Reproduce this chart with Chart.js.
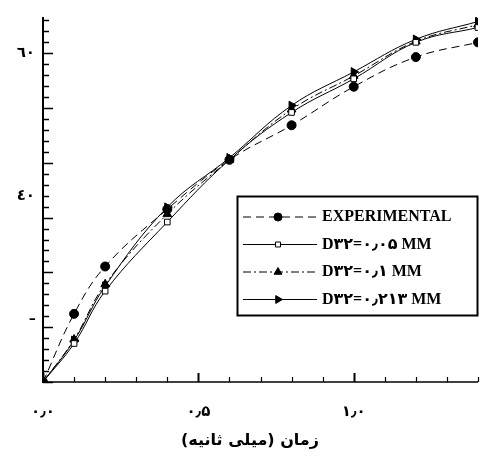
<!DOCTYPE html>
<html>
<head>
<meta charset="utf-8">
<script src="https://cdn.jsdelivr.net/npm/chart.js@4.4.1/dist/chart.umd.min.js"></script>
<style>
  html, body { margin: 0; padding: 0; background: #fff; }
  canvas { display: block; }
</style>
</head>
<body>
<canvas id="chart" width="499" height="458"></canvas>
<script>
// time (ms) samples
const xValues = [0, 0.1, 0.2, 0.4, 0.6, 0.8, 1.0, 1.2, 1.4];

const experimental = [13.85, 23.41, 30.06, 38.10, 45.03, 49.88, 55.29, 59.45, 61.52];
const d32Small = [13.85, 19.25, 26.60, 36.30, 45.03, 51.68, 56.40, 61.52, 63.60];
const d32Mid = [13.85, 19.81, 27.57, 37.41, 45.03, 52.10, 56.81, 61.66, 64.02];
const d32Large = [13.85, 19.67, 27.29, 38.38, 45.31, 52.65, 57.37, 61.94, 64.44];

const seriesLabels = ['EXPERIMENTAL', 'D٣٢=٠٫٠۵ MM', 'D٣٢=٠٫١ MM', 'D٣٢=٠٫٢١٣ MM'];

const xLabelValues = [0, 0.5, 1.0];
const xLabels = ['٠٫٠', '٠٫۵', '١٫٠'];

// y axis: minor step of 20/13, ticks counted down from 60
const yMinorStep = 20 / 13;
const yTicksBelow = 30;
const yTicksAbove = 3;
const yLabelSteps = [6, 17, 30];
const yLabels = ['ـ', '٤٠', '٦٠'];

const xTitle = 'زمان (میلی ثانیه)';

const yMin = 60 - yTicksBelow * yMinorStep;
const yMax = 60 + 3.3 * yMinorStep;

// keep mixed latin / arabic-digit strings in written order
const ltr = s => '\u202D' + s + '\u202C';

function pts(arr) {
    return arr.map((v, i) => ({ x: xValues[i], y: v }));
}

const labelFont = '"DejaVu Sans", sans-serif';

const axesPlugin = {
    id: 'axesPlugin',
    afterDraw(chart) {
        const ctx = chart.ctx;
        const xs = chart.scales.x;
        const ys = chart.scales.y;
        const area = chart.chartArea;
        ctx.save();
        ctx.strokeStyle = '#000';

        // axis lines
        ctx.lineWidth = 2;
        ctx.beginPath();
        ctx.moveTo(area.left, area.top);
        ctx.lineTo(area.left, area.bottom + 1);
        ctx.stroke();
        ctx.lineWidth = 1.5;
        ctx.beginPath();
        ctx.moveTo(area.left, area.bottom);
        ctx.lineTo(area.right, area.bottom);
        ctx.stroke();

        // inward ticks
        ctx.lineWidth = 1.5;
        ys.ticks.forEach((t, k) => {
            const y = Math.round(ys.getPixelForValue(t.value)) + 0.5;
            const len = (yTicksBelow - k) % 5 === 0 ? 10 : 6;
            ctx.beginPath();
            ctx.moveTo(area.left, y);
            ctx.lineTo(area.left + len, y);
            ctx.stroke();
        });
        xs.ticks.forEach((t, k) => {
            const x = Math.round(xs.getPixelForValue(t.value)) + 0.5;
            const len = k % 5 === 0 ? 9 : 5;
            ctx.lineWidth = k % 5 === 0 ? 2 : 1.2;
            ctx.beginPath();
            ctx.moveTo(x, area.bottom);
            ctx.lineTo(x, area.bottom - len);
            ctx.stroke();
        });

        // axis title
        ctx.fillStyle = '#000';
        ctx.font = 'bold 16px ' + labelFont;
        ctx.textAlign = 'center';
        ctx.textBaseline = 'middle';
        ctx.direction = 'rtl';
        ctx.fillText(xTitle, 250, 441);
        ctx.direction = 'ltr';

        // boxed legend
        const box = { x: 237.5, y: 196.5, w: 240, h: 119 };
        ctx.fillStyle = '#fff';
        ctx.fillRect(box.x, box.y, box.w, box.h);
        ctx.lineWidth = 2;
        ctx.strokeRect(box.x, box.y, box.w, box.h);
        chart.data.datasets.forEach((ds, i) => {
            const y = 217 + i * 27.5;
            ctx.lineWidth = 1;
            ctx.strokeStyle = '#000';
            ctx.setLineDash(ds.borderDash || []);
            ctx.beginPath();
            ctx.moveTo(243, y);
            ctx.lineTo(317, y);
            ctx.stroke();
            ctx.setLineDash([]);
            ctx.fillStyle = ds.pointBackgroundColor;
            Chart.helpers.drawPoint(ctx, {
                pointStyle: ds.pointStyle,
                rotation: ds.pointRotation || 0,
                radius: ds.pointRadius - 0.5,
                borderWidth: 1
            }, 278, y);
            ctx.fillStyle = '#000';
            ctx.font = 'bold 16px "Liberation Serif", "DejaVu Sans", serif';
            ctx.textAlign = 'left';
            ctx.fillText(ltr(ds.label), 322, y);
        });
        ctx.restore();
    }
};

function lineSet(label, values, dash, style, fill, radius, rotation) {
    return {
        label: label,
        data: pts(values),
        borderColor: '#000',
        borderWidth: 1,
        borderDash: dash,
        pointStyle: style,
        pointRotation: rotation,
        pointRadius: radius,
        pointBackgroundColor: fill,
        pointBorderColor: '#000',
        pointBorderWidth: 1,
        tension: 0.4,
        fill: false
    };
}

new Chart(document.getElementById('chart'), {
    type: 'line',
    data: {
        datasets: [
            lineSet(seriesLabels[0], experimental, [8, 5], 'circle', '#000', 4.5, 0),
            lineSet(seriesLabels[1], d32Small, [], 'rect', '#fff', 4, 0),
            lineSet(seriesLabels[2], d32Mid, [8, 3, 2, 3], 'triangle', '#000', 5, 0),
            lineSet(seriesLabels[3], d32Large, [], 'triangle', '#000', 5, 90)
        ]
    },
    options: {
        responsive: false,
        animation: false,
        devicePixelRatio: 1,
        layout: { padding: { top: 13, right: 7, bottom: 0, left: 0 } },
        plugins: {
            legend: { display: false },
            tooltip: { enabled: false }
        },
        scales: {
            x: {
                type: 'linear',
                min: 0,
                max: 1.4,
                border: { display: false },
                grid: { display: false, drawTicks: false },
                afterBuildTicks(scale) {
                    const t = [];
                    for (let k = 0; k <= 14; k++) t.push({ value: k / 10 });
                    scale.ticks = t;
                },
                afterFit(scale) { scale.height = 76; },
                ticks: {
                    autoSkip: false,
                    maxRotation: 0,
                    padding: 21,
                    color: '#000',
                    font: { family: labelFont, size: 15, weight: 'bold' },
                    callback(value) {
                        const i = xLabelValues.findIndex(v => Math.abs(v - value) < 1e-6);
                        return i >= 0 ? ltr(xLabels[i]) : '';
                    }
                }
            },
            y: {
                type: 'linear',
                min: yMin,
                max: yMax,
                border: { display: false },
                grid: { display: false, drawTicks: false },
                afterBuildTicks(scale) {
                    const t = [];
                    for (let k = 0; k <= yTicksBelow + yTicksAbove; k++) t.push({ value: yMin + k * yMinorStep });
                    scale.ticks = t;
                },
                afterFit(scale) { scale.width = 43; },
                ticks: {
                    autoSkip: false,
                    padding: 8,
                    color: '#000',
                    font: { family: labelFont, size: 15, weight: 'bold' },
                    callback(value, index) {
                        const i = yLabelSteps.indexOf(index);
                        return i >= 0 ? yLabels[i] : '';
                    }
                }
            }
        }
    },
    plugins: [axesPlugin]
});
</script>
</body>
</html>
